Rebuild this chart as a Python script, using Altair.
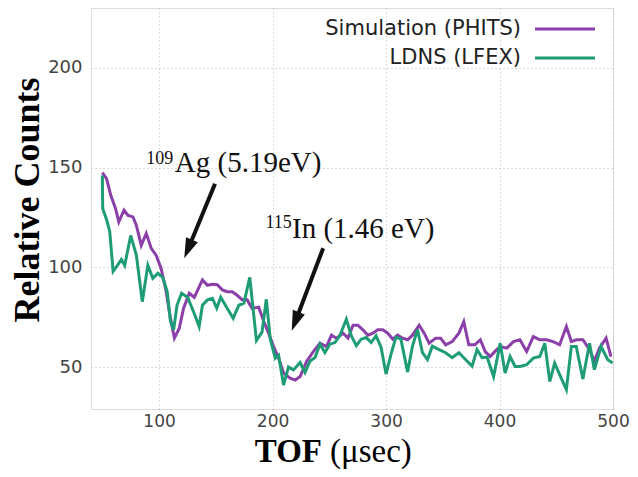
import altair as alt
import pandas as pd

series_names = ["Simulation (PHITS)", "LDNS (LFEX)"]
series_colors = ["#8B3FA9", "#1E9C76"]

sim_x = [50.0, 53.7, 57.5, 61.6, 64.5, 69.1, 72.6, 77.0, 80.0, 84.3, 88.7, 93.1, 97.5, 101.8, 106.2, 110.0,
         113.5, 117.8, 121.6, 126.6, 131.0, 138.2, 142.6, 146.7, 151.3, 155.7, 160.0, 164.4, 168.8, 173.2,
         177.6, 181.9, 187.8, 192.2, 196.5, 200.9, 205.3, 209.7, 215.5, 220.0, 224.3, 230.0, 235.9, 241.8,
         247.5, 251.9, 256.3, 262.1, 266.5, 270.9, 275.2, 279.6, 284.0, 288.4, 292.7, 297.1, 301.5, 305.9,
         310.2, 314.6, 319.0, 323.3, 329.2, 333.6, 338.0, 343.7, 348.1, 352.5, 358.3, 364.2, 368.5, 372.9,
         378.2, 383.1, 387.4, 391.8, 396.2, 400.6, 406.4, 412.3, 418.0, 423.9, 429.8, 435.5, 441.4, 447.3,
         453.0, 458.9, 463.3, 467.6, 473.5, 479.3, 483.6, 488.0, 493.9, 498.2]
sim_y = [147.5, 144.5, 136.0, 129.5, 122.8, 128.7, 126.0, 125.3, 121.0, 111.0, 117.0, 109.5, 106.0, 99.5, 88.0,
         74.5, 64.5, 69.5, 79.5, 87.0, 85.0, 93.7, 91.0, 91.5, 91.3, 88.7, 87.8, 87.8, 86.0, 83.7, 83.7, 79.5,
         80.0, 73.0, 67.0, 60.3, 54.5, 47.0, 44.5, 43.5, 45.3, 52.8, 57.8, 62.0, 60.3, 66.0, 64.5, 67.0, 64.5,
         71.0, 71.0, 68.7, 66.0, 67.0, 68.7, 68.7, 67.0, 64.0, 66.0, 64.5, 63.7, 66.0, 71.0, 67.0, 62.0, 64.5,
         64.5, 61.2, 62.8, 67.0, 72.8, 61.2, 61.2, 63.7, 57.8, 55.3, 58.0, 60.3, 59.5, 62.8, 63.7, 57.8, 65.3,
         63.7, 63.7, 62.8, 61.2, 70.3, 62.8, 63.7, 63.7, 58.7, 53.0, 59.5, 64.5, 55.3]

ldns_x = [50.0, 50.3, 53.7, 56.5, 59.5, 63.3, 66.8, 69.7, 75.0, 80.0, 85.2, 90.1, 94.5, 98.9, 103.2, 107.1,
          110.0, 112.8, 115.8, 119.8, 125.1, 130.9, 135.3, 138.2, 142.6, 147.0, 150.8, 154.3, 160.0, 165.3,
          170.3, 174.7, 179.9, 185.8, 190.7, 194.5, 198.0, 202.4, 205.3, 209.7, 214.0, 218.4, 224.3, 228.6,
          233.0, 237.4, 241.8, 246.1, 250.5, 254.9, 259.2, 265.0, 269.4, 273.8, 278.1, 282.5, 286.9, 291.2,
          295.6, 300.0, 304.4, 308.7, 313.1, 319.0, 323.3, 327.7, 332.1, 336.5, 340.8, 346.7, 352.5, 358.3,
          364.2, 370.0, 375.8, 380.2, 384.6, 389.0, 394.8, 400.6, 404.9, 409.3, 413.7, 418.0, 423.9, 429.8,
          435.5, 439.9, 444.3, 448.6, 453.0, 458.9, 463.3, 467.6, 473.5, 479.3, 483.6, 489.5, 495.4, 499.7]
ldns_y = [146.0, 129.5, 124.0, 118.0, 98.0, 101.0, 104.0, 101.0, 116.0, 106.0, 82.8, 101.0, 94.5, 97.0, 95.0,
          88.0, 73.0, 68.7, 81.0, 87.0, 85.0, 77.0, 70.3, 81.0, 83.7, 84.5, 79.5, 85.0, 79.5, 74.5, 81.0, 82.0,
          95.0, 63.3, 67.5, 84.0, 64.0, 54.5, 56.0, 41.0, 50.0, 48.6, 52.3, 47.3, 53.0, 54.8, 61.5, 57.3, 61.5,
          62.3, 65.7, 74.0, 65.7, 60.7, 64.0, 64.8, 62.3, 65.7, 60.0, 46.5, 56.5, 65.0, 64.0, 47.5, 60.5, 68.8,
          57.2, 53.8, 60.5, 58.8, 57.2, 54.7, 57.2, 53.8, 50.5, 58.8, 54.7, 55.0, 45.3, 62.0, 47.0, 55.3, 50.3,
          50.3, 51.2, 54.5, 55.3, 62.0, 42.8, 52.0, 46.2, 38.7, 60.3, 60.3, 44.0, 62.0, 48.7, 60.3, 53.7, 52.0]

x_ticks = [100, 200, 300, 400, 500]
y_ticks = [50, 100, 150, 200]

ann_sup = ["109", "115"]
ann_text = ["Ag (5.19eV)", "In (1.46 eV)"]

W, H = 522, 401
FONT = "DejaVu Sans"
SERIF = "Liberation Serif"

df = pd.concat([
    pd.DataFrame({"series": series_names[0], "x": sim_x, "y": sim_y}),
    pd.DataFrame({"series": series_names[1], "x": ldns_x, "y": ldns_y}),
], ignore_index=True)

xs = alt.Scale(domain=[40, 500], nice=False, zero=False)
ys = alt.Scale(domain=[29, 230], nice=False, zero=False)

xaxis = alt.Axis(values=x_ticks, title=None, grid=True, gridDash=[1, 3], gridColor="#b8b8b8",
                 gridWidth=1, ticks=False, domain=False, labelFont=FONT, labelFontSize=17,
                 labelColor="#444444", labelPadding=4, labelFlush=False)
yaxis = alt.Axis(values=y_ticks, title=None, grid=True, gridDash=[1, 3], gridColor="#b8b8b8",
                 gridWidth=1, ticks=False, domain=False, labelFont=FONT, labelFontSize=18,
                 labelColor="#444444", labelPadding=9)

lines = alt.Chart(df).mark_line(strokeWidth=3, clip=True).encode(
    x=alt.X("x:Q", scale=xs, axis=xaxis),
    y=alt.Y("y:Q", scale=ys, axis=yaxis),
    color=alt.Color("series:N", scale=alt.Scale(domain=series_names, range=series_colors), legend=None),
)

# legend (label left of line, gnuplot style)
legend_layers = []
for i, (name, col) in enumerate(zip(series_names, series_colors)):
    yy = 21 + 29 * i
    legend_layers.append(
        alt.Chart(pd.DataFrame({"t": [name]})).mark_text(
            align="right", baseline="middle", font=FONT, fontSize=21, color="#222222"
        ).encode(text="t:N", x=alt.value(430), y=alt.value(yy))
    )
    legend_layers.append(
        alt.Chart(pd.DataFrame({"t": [name]})).mark_rule(color=col, strokeWidth=3).encode(
            x=alt.value(444), x2=alt.value(504), y=alt.value(yy)
        )
    )

# annotations
ann_df = pd.DataFrame({
    "sup": ann_sup, "txt": ann_text,
    "sx": [88.7, 193.7], "sy": [151.9, 119.5],
    "tx": [113.9, 217.1], "ty": [147.8, 114.6],
})
sup = alt.Chart(ann_df).mark_text(align="left", baseline="alphabetic", font=SERIF, fontSize=18,
                                  color="#111111").encode(
    x=alt.X("sx:Q", scale=xs), y=alt.Y("sy:Q", scale=ys), text="sup:N")
txt = alt.Chart(ann_df).mark_text(align="left", baseline="alphabetic", font=SERIF, fontSize=29,
                                  color="#111111").encode(
    x=alt.X("tx:Q", scale=xs), y=alt.Y("ty:Q", scale=ys), text="txt:N")

arrow_df = pd.DataFrame({
    "x0": [149.3, 244.6], "y0": [141.9, 109.6],
    "x1": [126.3, 221.1], "y1": [110.2, 74.4],
})
arrow_shafts = alt.Chart(arrow_df).mark_rule(strokeWidth=4, color="#111111").encode(
    x=alt.X("x0:Q", scale=xs), y=alt.Y("y0:Q", scale=ys), x2="x1:Q", y2="y1:Q")

head_path = "M0,0L-0.45,-1.4L0.45,-1.4Z"
heads = []
for hx, hy, ang in [(122.2, 104.6, 22.5), (216.9, 68.2, 20.8)]:
    heads.append(
        alt.Chart(pd.DataFrame({"hx": [hx], "hy": [hy]})).mark_point(
            shape=head_path, filled=True, size=816, angle=ang, color="#111111", opacity=1, strokeWidth=0
        ).encode(x=alt.X("hx:Q", scale=xs), y=alt.Y("hy:Q", scale=ys))
    )

# axis titles
one = pd.DataFrame({"t": ["x"]})
ytitle = alt.Chart(one).mark_text(text="Relative Counts", angle=270, align="center", baseline="middle",
                                  font=SERIF, fontSize=36, fontWeight="bold", color="#000000").encode(
    x=alt.value(-63), y=alt.value(192))
xtitle1 = alt.Chart(one).mark_text(text="TOF", align="right", baseline="alphabetic",
                                   font=SERIF, fontSize=33, fontWeight="bold", color="#000000").encode(
    x=alt.value(231), y=alt.value(454))
xtitle2 = alt.Chart(one).mark_text(text="(μsec)", align="left", baseline="alphabetic",
                                   font=SERIF, fontSize=33, fontWeight="normal", color="#000000").encode(
    x=alt.value(239), y=alt.value(454))

chart = alt.layer(lines, *legend_layers, sup, txt, arrow_shafts, *heads, ytitle, xtitle1, xtitle2).properties(
    width=W, height=H,
    autosize=alt.AutoSizeParams(type="none"),
    padding={"left": 83, "top": 0, "right": 17, "bottom": 60},
).configure_view(stroke="#333333", strokeWidth=1.2).configure(background="white")

chart.save("out.html", embed_options={"renderer": "svg", "actions": False})
